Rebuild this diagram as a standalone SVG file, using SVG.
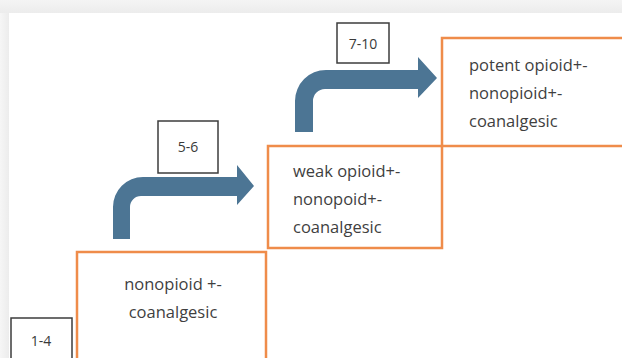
<svg xmlns="http://www.w3.org/2000/svg" width="622" height="358" viewBox="0 0 622 358">
<defs>
<linearGradient id="gt" x1="0" y1="0" x2="0" y2="1"><stop offset="0" stop-color="#f4f4f4"/><stop offset="1" stop-color="#ececec"/></linearGradient>
<linearGradient id="gl" x1="0" y1="0" x2="1" y2="0"><stop offset="0" stop-color="#f6f6f6"/><stop offset="1" stop-color="#ececec"/></linearGradient>
</defs>
<style>
.step{fill:none;stroke:#ef8c4a;stroke-width:2.5}
.lbl{fill:#fff;stroke:#3c3c3c;stroke-width:1.5}
.arrow{fill:#4c7594}
text{font-family:"Open Sans","Noto Sans","Liberation Sans",sans-serif;fill:#3f3f3f;font-size:16.5px}
.lt{font-size:14px;text-anchor:middle;fill:#3a3a3a}
</style>
<rect x="0" y="0" width="622" height="358" fill="#fff"/>
<rect x="0" y="0" width="622" height="13" fill="url(#gt)"/>
<rect x="0" y="13" width="9" height="345" fill="url(#gl)"/>
<g id="connectors">
<path class="arrow" d="M113,239 V207 A30,30 0 0 1 143,177 H237 V165 L254,186 L237,205 V196 H141 A11,11 0 0 0 130,207 V239 Z"/>
<path class="arrow" d="M295,132 V101 A31,31 0 0 1 326,70 H418 V57 L437,78 L418,98 V89 H325 A12,12 0 0 0 313,101 V132 Z"/>
</g>
<g id="step1">
<rect class="step" x="77" y="252" width="189" height="120"/>
<text x="173" y="290" text-anchor="middle">nonopioid +-</text>
<text x="173" y="318" text-anchor="middle">coanalgesic</text>
</g>
<g id="step2">
<rect class="step" x="268" y="146" width="174" height="102"/>
<text x="293" y="177">weak opioid+-</text>
<text x="293" y="205">nonopoid+-</text>
<text x="293" y="233">coanalgesic</text>
</g>
<g id="step3">
<rect class="step" x="442" y="38" width="200" height="108"/>
<text x="469" y="71">potent opioid+-</text>
<text x="469" y="99">nonopioid+-</text>
<text x="469" y="127">coanalgesic</text>
</g>
<g id="label1-4">
<rect class="lbl" x="11" y="318" width="61" height="50"/>
<text class="lt" x="41" y="346">1-4</text>
</g>
<g id="label5-6">
<rect class="lbl" x="158" y="121" width="60" height="52"/>
<text class="lt" x="188" y="152">5-6</text>
</g>
<g id="label7-10">
<rect class="lbl" x="337" y="23" width="52" height="40"/>
<text class="lt" x="363" y="49">7-10</text>
</g>
</svg>
